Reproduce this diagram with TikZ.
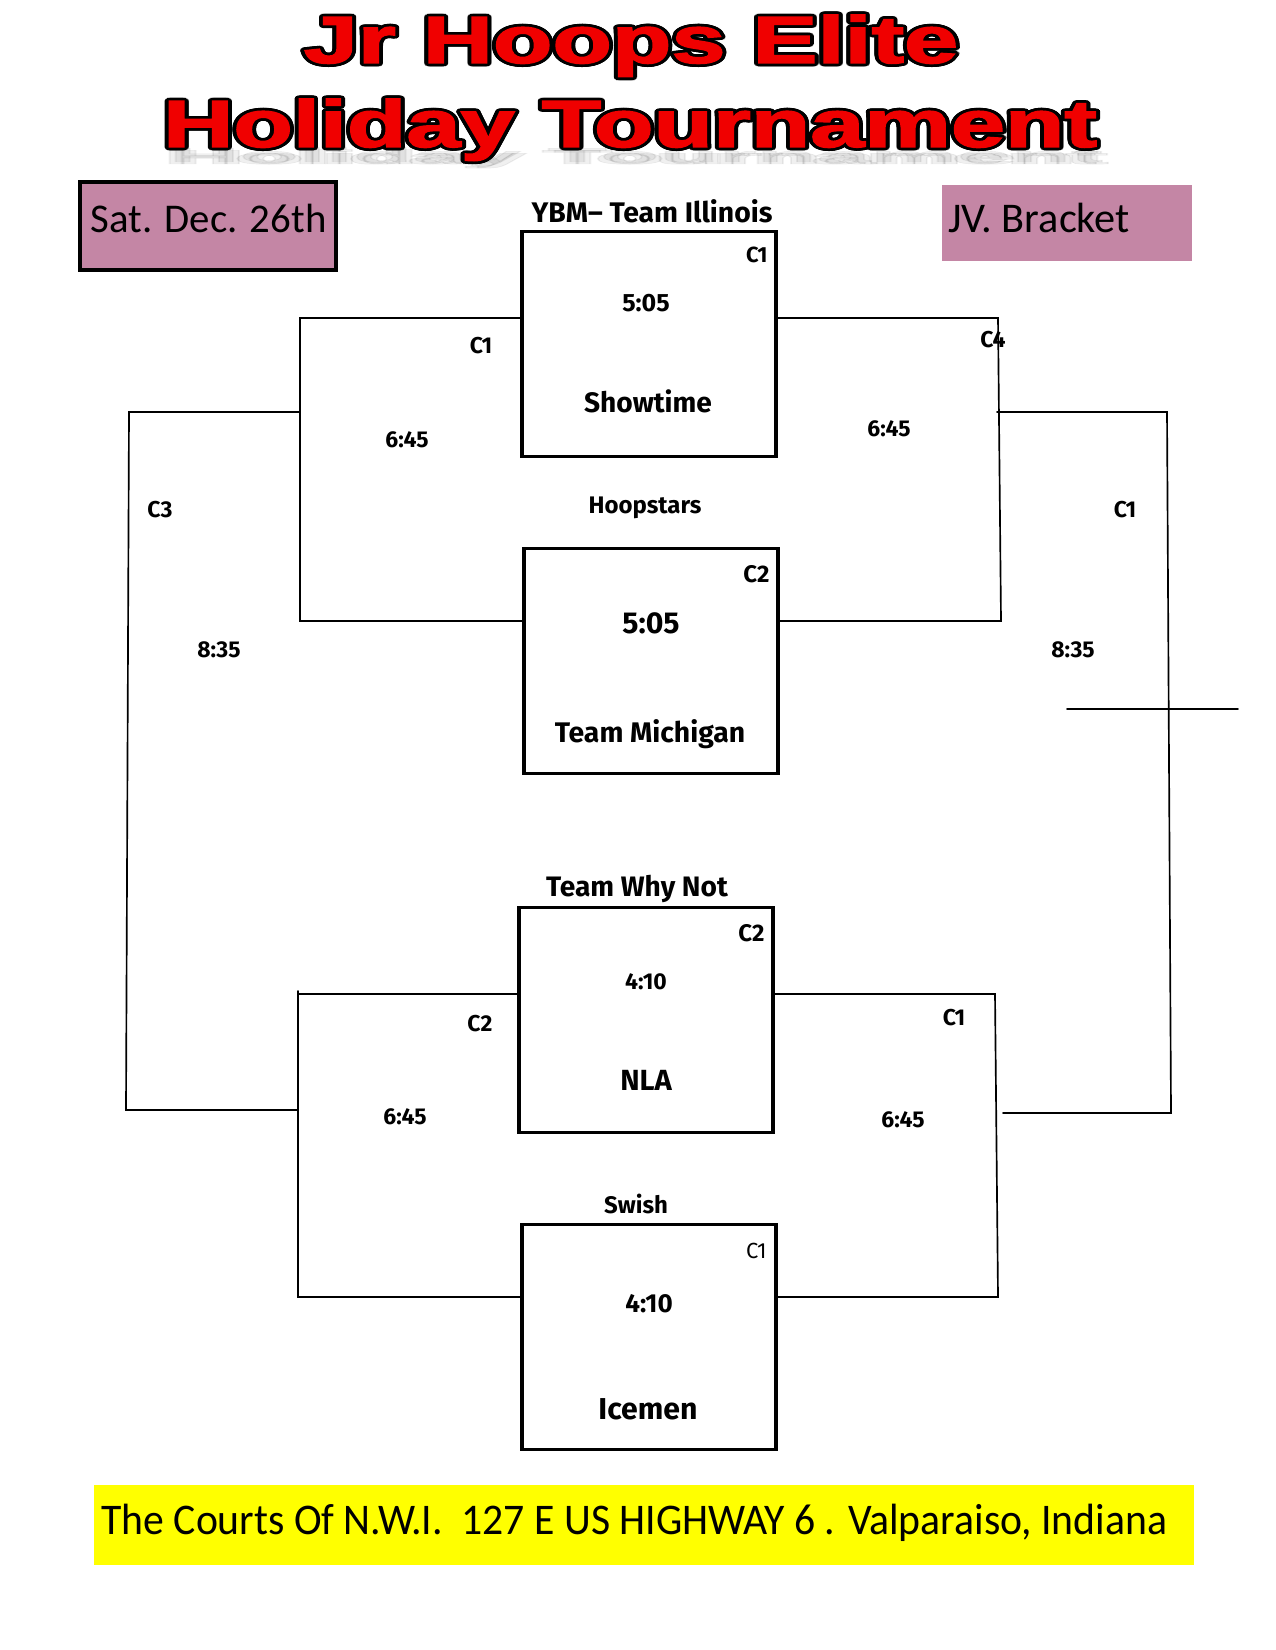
\documentclass[tikz,border=0pt]{standalone}
\usepackage{fontspec}
\usepackage{contour}
\usepackage{graphicx}
\newfontfamily\dinbase{Fira Sans}
\newcommand\dinfont{\dinbase\bfseries}
\newfontfamily\dinlight{Fira Sans}
\newfontfamily\calfont{Carlito}
\newfontfamily\titlefont{Liberation Sans}[BoldFeatures={FakeBold=2}]
\newcommand\fsz[1]{\fontsize{#1}{#1}\selectfont}
\definecolor{mauve}{RGB}{196,134,165}
\definecolor{hiyel}{RGB}{255,255,0}
\definecolor{titlered}{RGB}{240,0,0}
\contourlength{1.3pt}
\tikzset{
  teambox/.style={draw, line width=1.5pt, fill=white, minimum width=254*0.48pt, minimum height=225*0.48pt, inner sep=0pt, outer sep=0pt},
  txt/.style={anchor=base, inner sep=0pt, font=\dinfont},
  wire/.style={line width=0.8pt, line cap=round},
  titletxt/.style={anchor=base, inner sep=0pt, font=\titlefont\bfseries\fsz{32}},
}
\begin{document}
\begin{tikzpicture}[x=0.48pt,y=-0.48pt]
\useasboundingbox (0,0) rectangle (1275,1650);
\fill[white] (0,0) rectangle (1275,1650);

% title shadow (soft)
\foreach \i/\dx/\dy in {1/0/0, 2/-6/2, 3/6/2}{
  \node[titletxt, opacity=0.06] (t2s\i) at (636+\dx,162+\dy) {\scalebox{1.46}[0.3]{\color{black}Holiday Tournament}};
}
\node[titletxt] (t1) at (631,63) {\scalebox{1.46}[1]{\color{titlered}\contour{black}{Jr Hoops Elite}}};
\node[titletxt] (t2) at (630,147) {\scalebox{1.46}[1]{\color{titlered}\contour{black}{Holiday Tournament}}};

% header boxes
\node[draw, line width=1.9pt, fill=mauve, minimum width=256*0.48pt, minimum height=88*0.48pt, inner sep=0pt] (date) at (208,226) {};
\node[anchor=base west, inner sep=0pt, font=\calfont\fsz{19.6}] (datet) at (90,233) {Sat. Dec. 26th};
\node[fill=mauve, minimum width=250*0.48pt, minimum height=76*0.48pt, inner sep=0pt] (jv) at (1067,223) {};
\node[anchor=base west, inner sep=0pt, font=\calfont\fsz{20.3}] (jvt) at (948,233) {JV. Bracket};

% footer
\node[fill=hiyel, minimum width=1100*0.48pt, minimum height=80*0.48pt, inner sep=0pt] (foot) at (644,1525) {};
\node[anchor=base west, inner sep=0pt, font=\calfont\fsz{21}] (foott) at (101,1534) {\scalebox{0.953}[1]{The Courts Of N.W.I.\ \ 127 E US HIGHWAY 6 . Valparaiso, Indiana}};

% team boxes
\node[teambox] (b1) at (649,344) {};
\node[teambox] (b2) at (651,661) {};
\node[teambox] (b3) at (646,1020) {};
\node[teambox] (b4) at (649,1337) {};

% bracket coordinates
\coordinate (tla) at (300,318);
\coordinate (tlb) at (300,621);
\coordinate (tlm) at (300,412);
\coordinate (tra) at (998,318);
\coordinate (trb) at (1001,621);
\coordinate (orm) at (997,412);
\coordinate (ola) at (129,412);
\coordinate (olb) at (126,1110);
\coordinate (blm) at (298,1110);
\coordinate (ora) at (1167,412);
\coordinate (orb) at (1171,1113);
\coordinate (brm) at (1003,1113);
\coordinate (xa) at (1067,709);
\coordinate (xb) at (1238,709);
\coordinate (blt) at (298,991);
\coordinate (bla) at (298,994);
\coordinate (blb) at (298,1297);
\coordinate (bra) at (995,994);
\coordinate (brb) at (998,1297);

\draw[wire] (b1.west |- tla) -- (tla) -- (tlb) -- (b2.west |- tlb);
\draw[wire] (b1.east |- tra) -- (tra) -- (trb) -- (b2.east |- trb);
\draw[wire] (tlm) -- (ola) -- (olb) -- (blm);
\draw[wire] (orm) -- (ora) -- (orb) -- (brm);
\draw[wire] (xa) -- (xb);
\draw[wire] (b3.west |- bla) -- (bla);
\draw[wire] (blt) -- (blb) -- (b4.west |- blb);
\draw[wire] (b3.east |- bra) -- (bra) -- (brb) -- (b4.east |- brb);

% box 1
\node[txt, font=\dinfont\fsz{13.6}] (n1) at (652,223) {YBM– Team Illinois};
\node[txt, anchor=base east, font=\dinfont\fsz{10.5}] (c1) at (768,263) {C1};
\node[txt, font=\dinfont\fsz{12}] (tm1) at (646,312) {5:05};
\node[txt, font=\dinfont\fsz{13.5}] (s1) at (648,413) {Showtime};

% box 2
\node[txt, font=\dinfont\fsz{11.5}] (n2) at (645,513) {Hoopstars};
\node[txt, anchor=base east, font=\dinfont\fsz{11.5}] (c2) at (770,582) {C2};
\node[txt, font=\dinfont\fsz{14.5}] (tm2) at (651,633) {5:05};
\node[txt, font=\dinfont\fsz{13.6}] (s2) at (650,742) {Team Michigan};

% box 3
\node[txt, font=\dinfont\fsz{13.5}] (n3) at (637,896) {Team Why Not};
\node[txt, anchor=base east, font=\dinfont\fsz{11.5}] (c3) at (765,941) {C2};
\node[txt, font=\dinfont\fsz{11}] (tm3) at (646,989) {4:10};
\node[txt, font=\dinfont\fsz{14}] (s3) at (646,1090) {NLA};

% box 4
\node[txt, font=\dinfont\fsz{11.5}] (n4) at (636,1213) {Swish};
\node[txt, anchor=base east, font=\dinlight\fsz{10.5}] (c4) at (767,1258) {C1};
\node[txt, font=\dinfont\fsz{12.5}] (tm4) at (649,1312) {4:10};
\node[txt, font=\dinfont\fsz{14.5}] (s4) at (648,1419) {Icemen};

% bracket labels
\node[txt, font=\dinfont\fsz{11}] (l1) at (481,354) {C1};
\node[txt, font=\dinfont\fsz{11}] (l2) at (407,448) {6:45};
\node[txt, font=\dinfont\fsz{11}] (l3) at (993,348) {C4};
\node[txt, font=\dinfont\fsz{11}] (l4) at (889,437) {6:45};
\node[txt, font=\dinfont\fsz{11}] (l5) at (160,517) {C3};
\node[txt, font=\dinfont\fsz{11}] (l6) at (219,657) {8:35};
\node[txt, font=\dinfont\fsz{11}] (l7) at (1125,517) {C1};
\node[txt, font=\dinfont\fsz{11}] (l8) at (1073,657) {8:35};
\node[txt, font=\dinfont\fsz{11}] (l9) at (480,1031) {C2};
\node[txt, font=\dinfont\fsz{11}] (l10) at (405,1124) {6:45};
\node[txt, font=\dinfont\fsz{11}] (l11) at (954,1025) {C1};
\node[txt, font=\dinfont\fsz{11}] (l12) at (903,1127) {6:45};
\end{tikzpicture}
\end{document}
